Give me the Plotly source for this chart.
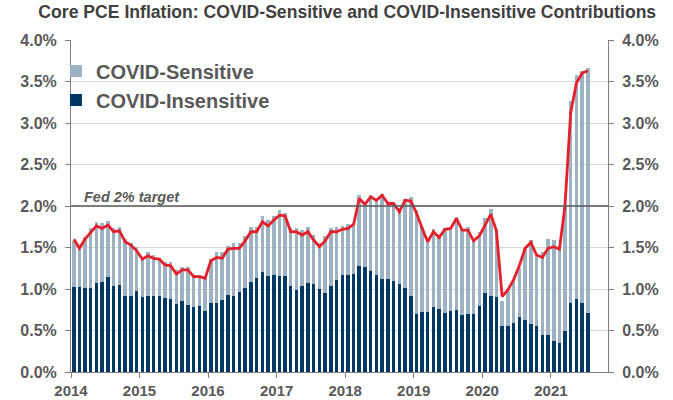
import pandas as pd
import plotly.graph_objects as go

# ---- data (percent, y/y contributions) ----
months = pd.date_range("2014-01-01", "2021-07-01", freq="MS")

total = [
    # 2014
    1.58, 1.49, 1.63, 1.73, 1.81, 1.79, 1.82, 1.74, 1.75, 1.60, 1.55, 1.51,
    # 2015
    1.38, 1.45, 1.41, 1.37, 1.32, 1.33, 1.23, 1.26, 1.26, 1.17, 1.17, 1.16,
    # 2016
    1.36, 1.44, 1.44, 1.52, 1.56, 1.56, 1.64, 1.75, 1.75, 1.88, 1.83, 1.88,
    # 2017
    1.95, 1.92, 1.73, 1.73, 1.71, 1.75, 1.65, 1.56, 1.64, 1.74, 1.75, 1.76,
    # 2018
    1.78, 1.79, 2.13, 2.05, 2.13, 2.09, 2.15, 2.05, 2.05, 1.97, 2.08, 2.11,
    # 2019
    1.95, 1.75, 1.57, 1.72, 1.63, 1.74, 1.72, 1.87, 1.72, 1.75, 1.59, 1.69,
    # 2020
    1.85, 1.96, 1.72, 0.86, 0.97, 1.12, 1.25, 1.49, 1.59, 1.41, 1.44, 1.60,
    # 2021
    1.59, 1.52, 2.00, 3.26, 3.58, 3.63, 3.66,
]

covid_insensitive = [
    1.02, 1.02, 1.01, 1.01, 1.07, 1.08, 1.14, 1.04, 1.05, 0.92, 0.92, 0.98,
    0.90, 0.92, 0.92, 0.92, 0.89, 0.88, 0.82, 0.86, 0.81, 0.78, 0.80, 0.74,
    0.83, 0.83, 0.87, 0.93, 0.92, 0.96, 1.01, 1.08, 1.13, 1.20, 1.16, 1.17,
    1.16, 1.16, 1.04, 0.99, 1.04, 1.07, 1.06, 1.00, 0.95, 1.04, 1.11, 1.17,
    1.17, 1.18, 1.28, 1.26, 1.22, 1.17, 1.12, 1.12, 1.10, 1.06, 1.01, 0.92,
    0.70, 0.72, 0.72, 0.78, 0.76, 0.71, 0.74, 0.75, 0.69, 0.70, 0.70, 0.80,
    0.95, 0.91, 0.90, 0.56, 0.56, 0.59, 0.66, 0.63, 0.58, 0.55, 0.45, 0.45,
    0.37, 0.35, 0.49, 0.83, 0.88, 0.83, 0.71,
]

core_pce = [
    1.60, 1.49, 1.60, 1.68, 1.76, 1.73, 1.77, 1.69, 1.70, 1.57, 1.53, 1.46,
    1.36, 1.40, 1.37, 1.36, 1.29, 1.28, 1.18, 1.23, 1.23, 1.15, 1.15, 1.13,
    1.34, 1.38, 1.37, 1.48, 1.49, 1.49, 1.58, 1.69, 1.69, 1.81, 1.76, 1.83,
    1.89, 1.88, 1.69, 1.69, 1.65, 1.69, 1.59, 1.51, 1.58, 1.69, 1.69, 1.72,
    1.73, 1.78, 2.09, 2.02, 2.11, 2.07, 2.13, 2.03, 2.03, 1.93, 2.07, 2.06,
    1.91, 1.73, 1.57, 1.69, 1.62, 1.72, 1.73, 1.85, 1.71, 1.71, 1.58, 1.64,
    1.77, 1.90, 1.70, 0.91, 0.99, 1.11, 1.28, 1.49, 1.56, 1.41, 1.38, 1.49,
    1.51, 1.48, 1.99, 3.12, 3.48, 3.60, 3.63,
]

covid_sensitive = [round(t - i, 2) for t, i in zip(total, covid_insensitive)]

year_ticks = [f"{y}-01-01" for y in range(2014, 2022)]
year_labels = [str(y) for y in range(2014, 2022)]
y_ticks = [0, 0.5, 1.0, 1.5, 2.0, 2.5, 3.0, 3.5, 4.0]
y_labels = [f"{v:.1f}%" for v in y_ticks]
fed_target = 2.0

# ---- style ----
NAVY = "#003865"
LIGHT = "#9DB2C2"
RED = "#E5202A"
TXT = "#595959"
FONT = "Liberation Sans, Arial, sans-serif"

fig = go.Figure()
fig.add_trace(go.Bar(
    x=months, y=covid_insensitive, name="COVID-Insensitive",
    marker=dict(color=NAVY, line=dict(width=0)),
    xperiod="M1", xperiodalignment="middle",
))
fig.add_trace(go.Bar(
    x=months, y=covid_sensitive, name="COVID-Sensitive",
    marker=dict(color=LIGHT, line=dict(width=0)),
    xperiod="M1", xperiodalignment="middle",
))
fig.add_trace(go.Scatter(
    x=months, y=core_pce, mode="lines", name="Core PCE",
    line=dict(color=RED, width=2.8), showlegend=False,
    xperiod="M1", xperiodalignment="middle",
))
# invisible trace to anchor the right-hand axis
fig.add_trace(go.Scatter(
    x=[months[0]], y=[0], yaxis="y2", mode="markers",
    marker=dict(opacity=0), showlegend=False, hoverinfo="skip",
))

fig.add_shape(type="line", xref="paper", x0=0, x1=1, yref="y",
              y0=fed_target, y1=fed_target,
              line=dict(color="#595959", width=1.6))
fig.add_annotation(text="Fed 2% target", xref="paper", x=0.02, yref="y",
                   y=fed_target, xanchor="left", yanchor="bottom", yshift=-1,
                   showarrow=False,
                   font=dict(family=FONT, size=14.5, color=TXT,
                             weight="bold", style="italic"))

axis_common = dict(
    range=[0, 4], tickvals=y_ticks, ticktext=y_labels,
    showline=True, linecolor="#7F7F7F", linewidth=1,
    ticks="outside", ticklen=5, tickcolor="#7F7F7F", ticklabelstandoff=5,
    tickfont=dict(family=FONT, size=16, color=TXT, weight="bold"),
    zeroline=False, fixedrange=True, automargin=False,
)

fig.update_layout(
    width=673, height=400,
    margin=dict(l=71, r=65, t=40, b=28, autoexpand=False),
    paper_bgcolor="white", plot_bgcolor="white",
    barmode="stack", bargap=0.38,
    title=dict(text="Core PCE Inflation: COVID-Sensitive and COVID-Insensitive Contributions",
               x=0.516, xanchor="center", y=0.985, yanchor="top",
               font=dict(family=FONT, size=17.6, color="#404040", weight="bold")),
    xaxis=dict(
        range=["2014-01-01", "2021-11-01"], type="date",
        tickvals=year_ticks, ticktext=year_labels,
        showline=True, linecolor="#7F7F7F", linewidth=1,
        ticks="outside", ticklen=5, tickcolor="#7F7F7F",
        tickfont=dict(family=FONT, size=15, color=TXT, weight="bold"),
        showgrid=False, zeroline=False, automargin=False, fixedrange=True,
    ),
    yaxis=dict(side="left", showgrid=True, gridcolor="#D9D9D9", gridwidth=1,
               **axis_common),
    yaxis2=dict(side="right", overlaying="y", showgrid=False, **axis_common),
    legend=dict(x=-0.028, y=0.965, xanchor="left", yanchor="top",
                traceorder="reversed", bgcolor="rgba(0,0,0,0)",
                font=dict(family=FONT, size=20, color=TXT, weight="bold"),
                tracegroupgap=0, itemwidth=30),
    showlegend=True,
)

fig.write_html("out.html",
               config={"displayModeBar": False},
               post_script="document.body.style.margin='0';document.body.style.padding='0';")
